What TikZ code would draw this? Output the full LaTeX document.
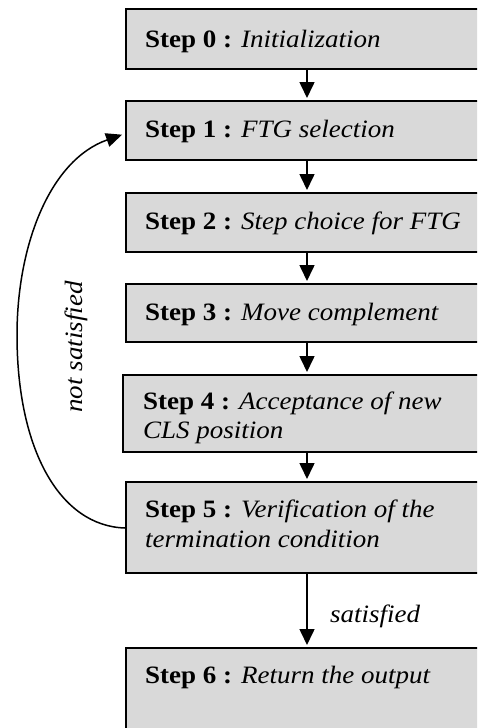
\documentclass[tikz,border=0pt]{standalone}
\usepackage{fontspec}
\setmainfont{Liberation Serif}[FakeStretch=1.08]
\usetikzlibrary{arrows.meta,calc}
\definecolor{boxgray}{RGB}{217,217,217}
\begin{document}
\begin{tikzpicture}[x=1pt,y=-1pt,
  stepbox/.style={draw=black, line width=1.7pt, fill=boxgray, rectangle,
    anchor=north west, inner sep=0pt, minimum width=390pt},
  steptext/.style={anchor=base west, inner sep=0pt, font=\fontsize{25}{30}\selectfont},
  lbl/.style={inner sep=0pt, font=\fontsize{25}{30}\selectfont\itshape},
  flow/.style={-{Triangle[length=16pt,width=15pt]}, line width=1.6pt, shorten >=2pt},
  loop/.style={-{Triangle[length=16pt,width=14pt]}, line width=1.5pt, shorten >=1pt}]
\useasboundingbox (0,0) rectangle (477,728);
\begin{scope}
\clip (0,0) rectangle (477,728);
% boxes
\node[stepbox, minimum height=60pt] (b0) at (125,8) {};
\node[stepbox, minimum height=59pt] (b1) at (125,100) {};
\node[stepbox, minimum height=59pt] (b2) at (125,192) {};
\node[stepbox, minimum height=58pt] (b3) at (125,283) {};
\node[stepbox, minimum height=77pt] (b4) at (122,374) {};
\node[stepbox, minimum height=91pt] (b5) at (125,481) {};
\node[stepbox, minimum height=100pt] (b6) at (125,647) {};
% texts
\node[steptext] (t0) at (145,47) {\textbf{Step 0 :} \textit{Initialization}};
\node[steptext] (t1) at (145,137) {\textbf{Step 1 :} \textit{FTG selection}};
\node[steptext] (t2) at (145,229) {\textbf{Step 2 :} \textit{Step choice for FTG}};
\node[steptext] (t3) at (145,320) {\textbf{Step 3 :} \textit{Move complement}};
\node[steptext] (t4) at (143,409) {\textbf{Step 4 :} \textit{Acceptance of new}};
\node[steptext] (t4b) at (143,438) {\textit{CLS position}};
\node[steptext] (t5) at (145,517) {\textbf{Step 5 :} \textit{Verification of the}};
\node[steptext] (t5b) at (145,547) {\textit{termination condition}};
\node[steptext] (t6) at (145,683) {\textbf{Step 6 :} \textit{Return the output}};
% connectors
\coordinate (ax) at (307,0);
\draw[flow] (b0.south -| ax) -- (b1.north -| ax);
\draw[flow] (b1.south -| ax) -- (b2.north -| ax);
\draw[flow] (b2.south -| ax) -- (b3.north -| ax);
\draw[flow] (b3.south -| ax) -- (b4.north -| ax);
\draw[flow] (b4.south -| ax) -- (b5.north -| ax);
\draw[flow] (b5.south -| ax) -- (b6.north -| ax);
\coordinate (ls) at ($(b5.north west)+(0,47)$);
\coordinate (le) at ($(b1.west)+(-2,4)$);
\draw[loop] (ls) .. controls (60,526) and (17,450) .. (17,335)
  .. controls (17,245) and (50,160) .. (le);
% labels
\node[lbl, rotate=90, anchor=base] (ns) at (82,347) {not satisfied};
\node[lbl, anchor=base west] (sat) at (330,622) {satisfied};
\end{scope}
\end{tikzpicture}
\end{document}
